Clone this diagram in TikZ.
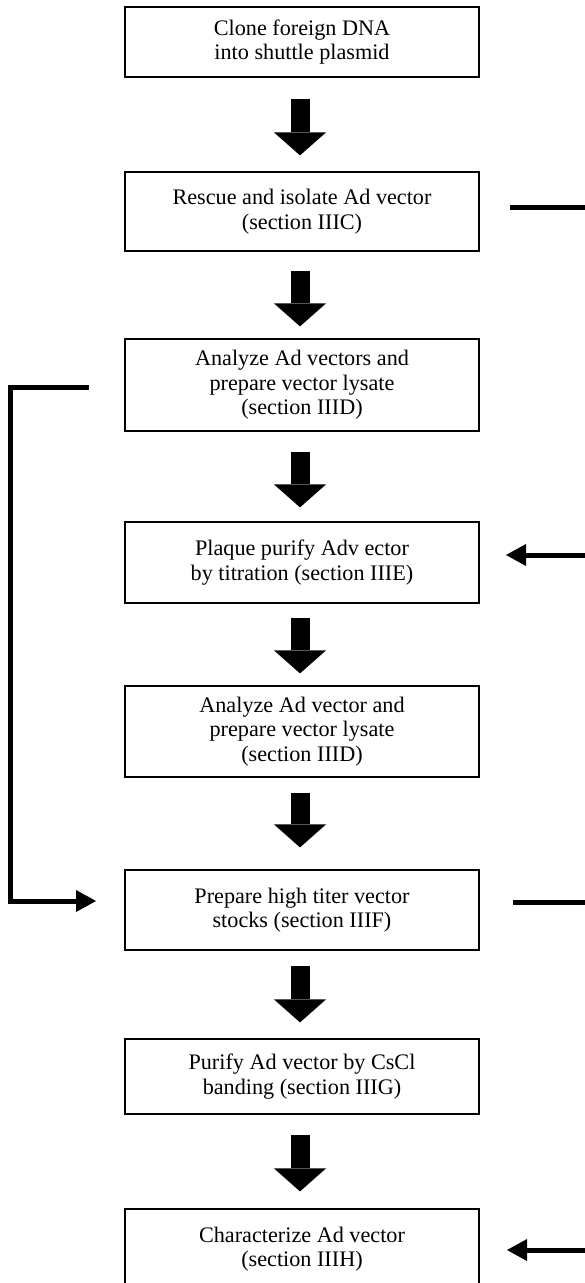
\documentclass[tikz,border=0pt]{standalone}
\usepackage{fontspec}
\setmainfont{Liberation Serif}
\usetikzlibrary{arrows.meta}
\begin{document}
\begin{tikzpicture}[x=1pt,y=-1pt,
  stepbox/.style={draw, line width=1.2pt, minimum width=354pt, inner sep=0pt,
    align=center, font=\fontsize{22.2}{24.5}\selectfont},
  blk/.style={line width=19pt, -{Triangle[width=52pt,length=23pt,line width=0pt]}},
  conn/.style={line width=5pt},
  conntip/.style={conn, -{Triangle[width=22pt,length=20pt,line width=0pt]}}]
\useasboundingbox (0,0) rectangle (585,1283);
\fill[white] (0,0) rectangle (585,1283);
\clip (0,0) rectangle (585,1283);

\node[stepbox, minimum height=70pt] (b1) at (302,42) {Clone foreign DNA\\into shuttle plasmid};
\node[stepbox, minimum height=79pt] (b2) at (302,211.5) {Rescue and isolate Ad vector\\(section IIIC)};
\node[stepbox, minimum height=92pt] (b3) at (302,385) {Analyze Ad vectors and\\prepare vector lysate\\(section IIID)};
\node[stepbox, minimum height=81pt] (b4) at (302,562.5) {Plaque purify Adv ector\\by titration (section IIIE)};
\node[stepbox, minimum height=91pt] (b5) at (302,731.5) {Analyze Ad vector and\\prepare vector lysate\\(section IIID)};
\node[stepbox, minimum height=80pt] (b6) at (302,910) {Prepare high titer vector\\stocks (section IIIF)};
\node[stepbox, minimum height=75pt] (b7) at (302,1076.5) {Purify Ad vector by CsCl\\banding (section IIIG)};
\node[stepbox, minimum height=80pt] (b8) at (302,1249) {Characterize Ad vector\\(section IIIH)};

\draw[blk, shorten <=21pt, shorten >=16pt] ([xshift=-2pt]b1.south) -- ([xshift=-2pt]b2.north);
\draw[blk, shorten <=19pt, shorten >=12pt] ([xshift=-2pt]b2.south) -- ([xshift=-2pt]b3.north);
\draw[blk, shorten <=20pt, shorten >=14pt] ([xshift=-2pt]b3.south) -- ([xshift=-2pt]b4.north);
\draw[blk, shorten <=14pt, shorten >=12pt] ([xshift=-2pt]b4.south) -- ([xshift=-2pt]b5.north);
\draw[blk, shorten <=15pt, shorten >=22pt] ([xshift=-2pt]b5.south) -- ([xshift=-2pt]b6.north);
\draw[blk, shorten <=15pt, shorten >=16pt] ([xshift=-2pt]b6.south) -- ([xshift=-2pt]b7.north);
\draw[blk, shorten <=20pt, shorten >=17pt] ([xshift=-2pt]b7.south) -- ([xshift=-2pt]b8.north);

% right side
\coordinate (r2s) at (510,207);
\coordinate (r2e) at (585,207);
\draw[conn] (r2s) -- (r2e);
\coordinate (r4s) at (585,555);
\coordinate (r4e) at (506,555);
\draw[conntip] (r4s) -- (r4e);
\coordinate (r6s) at (513,902);
\coordinate (r6e) at (585,902);
\draw[conn] (r6s) -- (r6e);
\coordinate (r8s) at (585,1250);
\coordinate (r8e) at (507,1250);
\draw[conntip] (r8s) -- (r8e);

% left feedback loop
\coordinate (fbS) at (89,387);
\coordinate (fbX) at (10.5,0);
\coordinate (fbE) at (96,901);
\draw[conntip] (fbS) -- (fbS -| fbX) -- (fbE -| fbX) -- (fbE);
\end{tikzpicture}
\end{document}
